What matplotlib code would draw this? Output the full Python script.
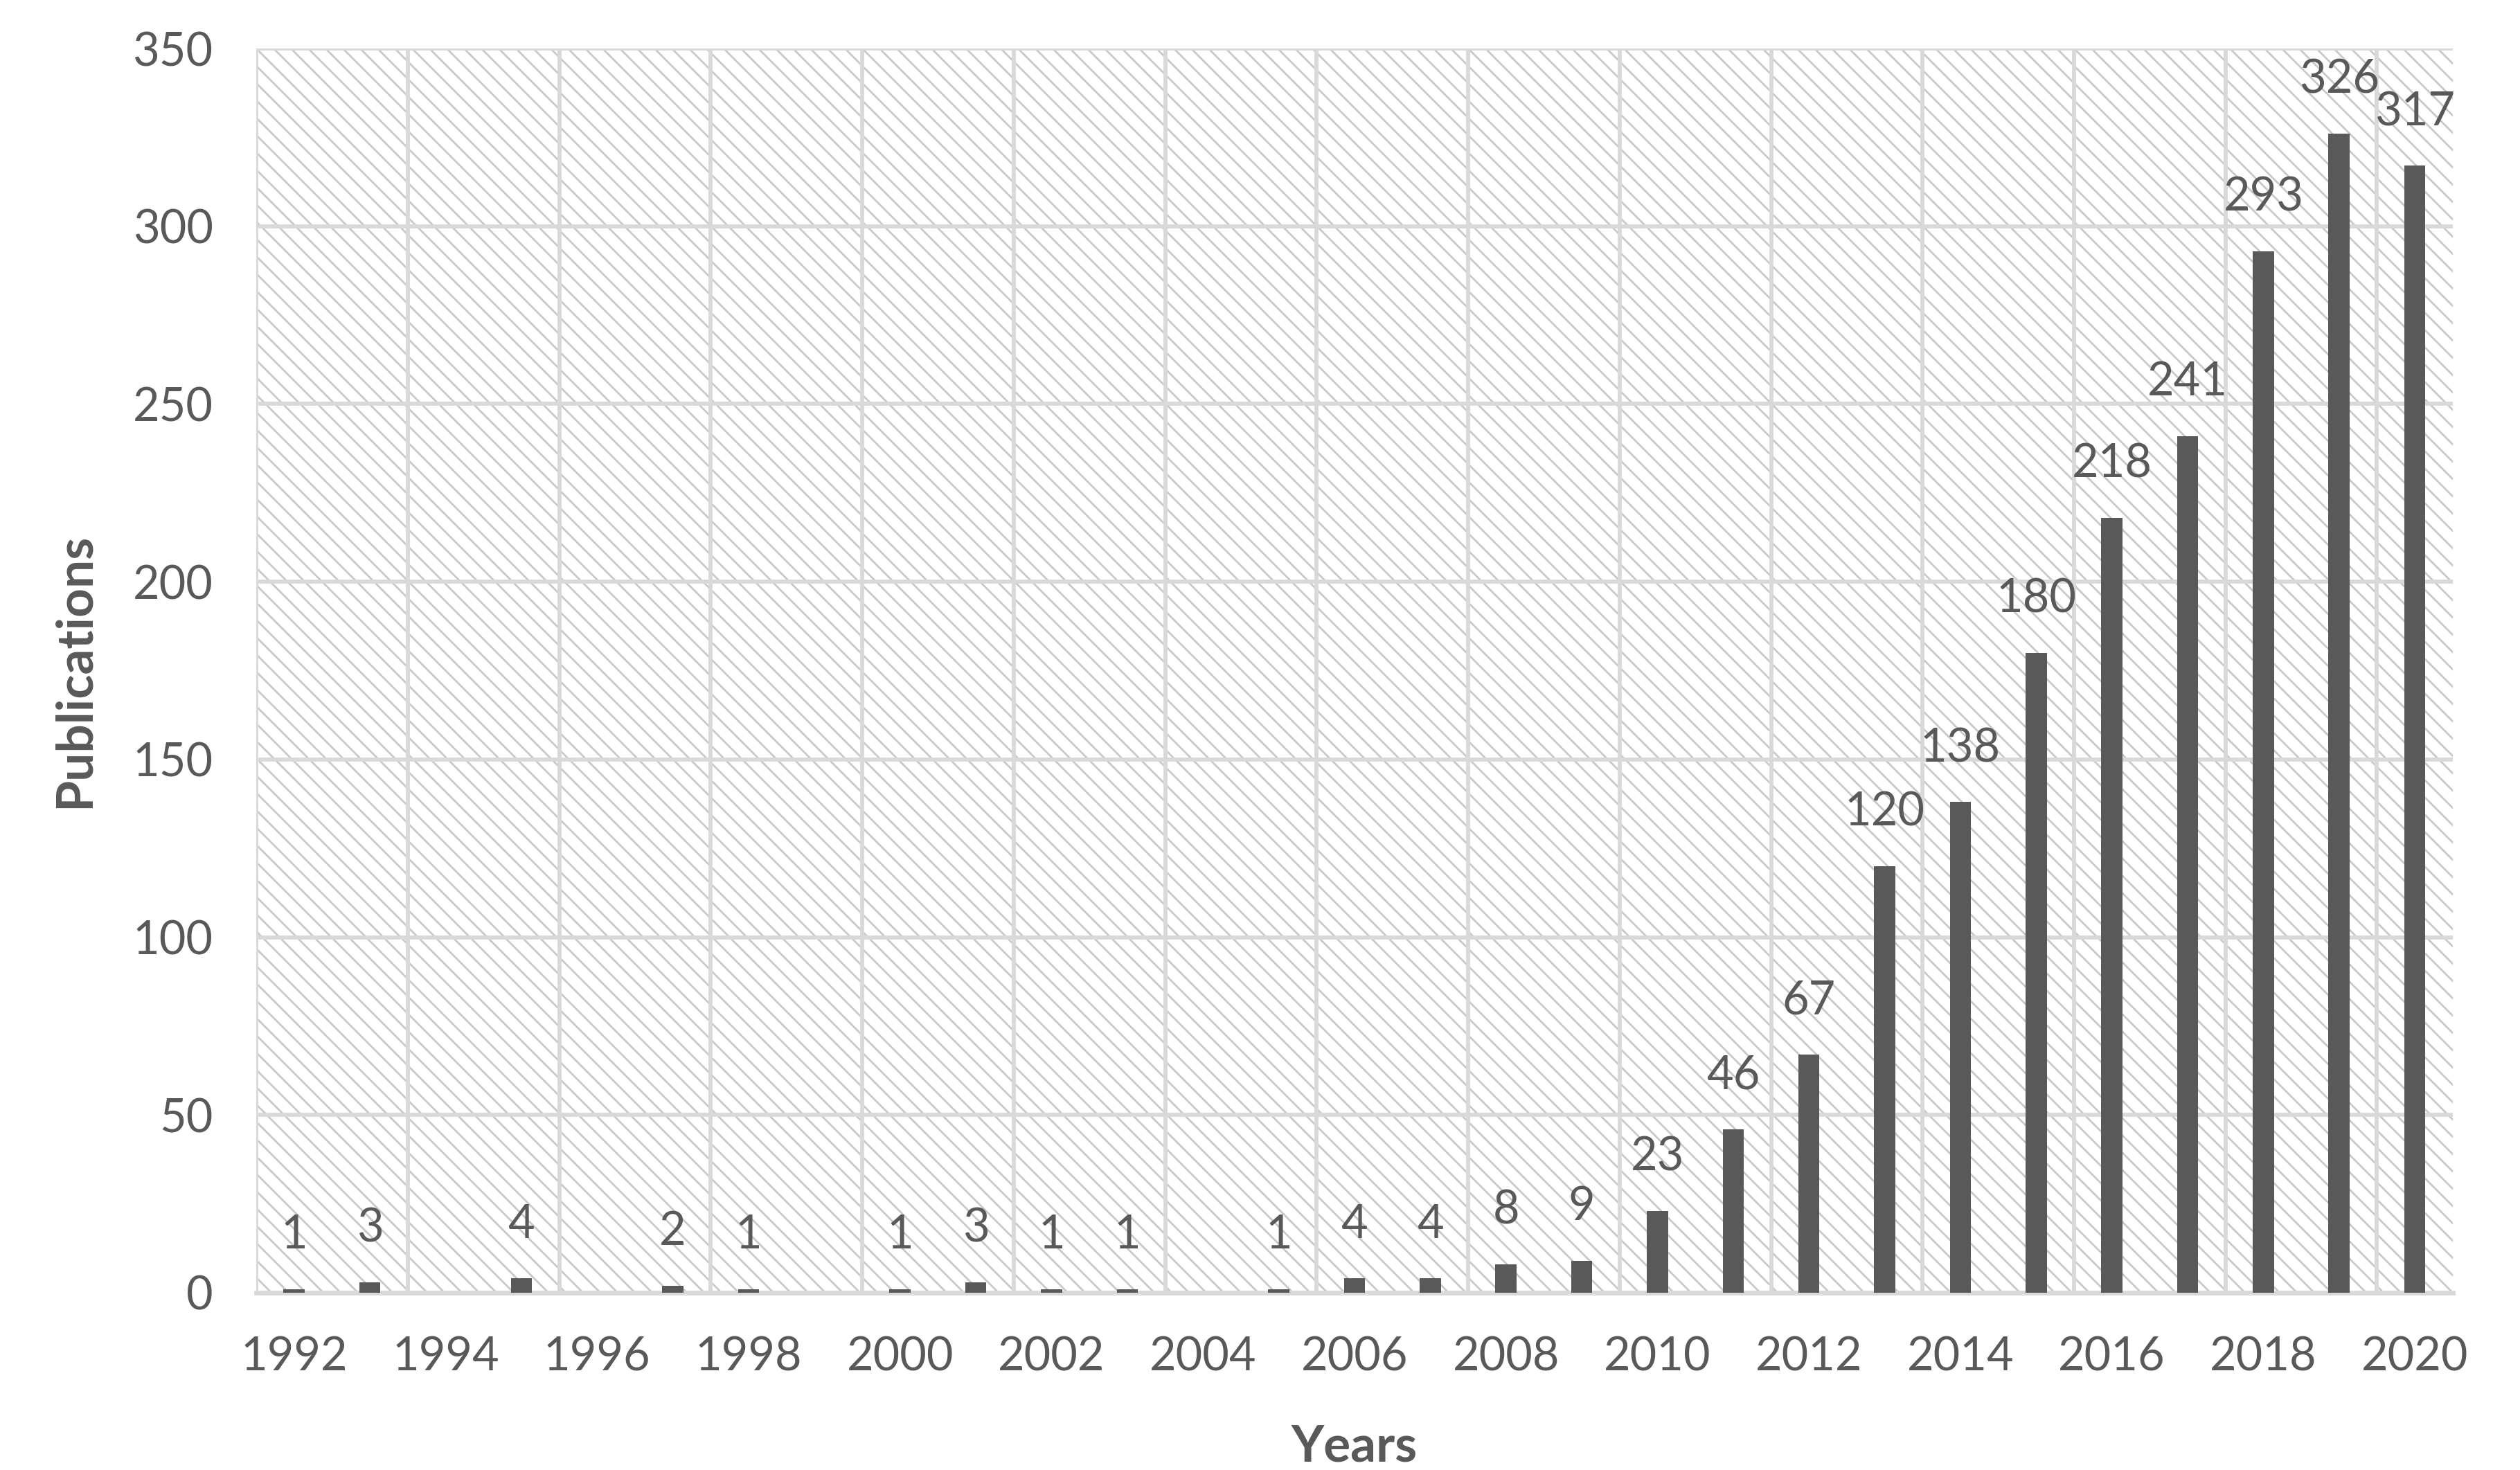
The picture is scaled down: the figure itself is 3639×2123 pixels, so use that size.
import numpy as np
import matplotlib
matplotlib.use("Agg")
import matplotlib.pyplot as plt
from matplotlib.patches import Rectangle

# Datos
years = list(range(1992, 2021))
publications = [1, 3, 0, 4, 0, 2, 1, 0, 1, 3, 1, 1, 0, 1, 4, 4, 8, 9,
                23, 46, 67, 120, 138, 180, 218, 241, 293, 326, 317]
y_ticks = [0, 50, 100, 150, 200, 250, 300, 350]

text_color = '#595959'
grid_color = '#d9d9d9'

plt.rcParams['font.family'] = ['Lato', 'DejaVu Sans']
plt.rcParams['hatch.linewidth'] = 1.3

DPI = 150
fig = plt.figure(figsize=(3639 / DPI, 2123 / DPI), dpi=DPI)
ax = fig.add_axes([0.1017, 0.1206, 0.8716, 0.8464])

x = np.arange(len(years))

# Fondo con trama diagonal
bg = Rectangle((0, 0), 1, 1, transform=ax.transAxes, facecolor='white',
               edgecolor='#c8c8c8', hatch='\\\\', linewidth=0, zorder=0.1)
ax.add_patch(bg)

ax.bar(x, publications, width=0.28, color='#595959', zorder=3)

# Etiquetas de datos (sin etiqueta para ceros)
for xi, v in zip(x, publications):
    if v > 0:
        ax.annotate(str(v), (xi, v), xytext=(0, 28), textcoords='offset points',
                    ha='center', va='baseline', fontsize=32, color=text_color, zorder=4)

ax.set_xlim(-0.5, len(years) - 0.5)
ax.set_ylim(0, 350)
ax.set_yticks(y_ticks)
ax.set_xticks(x[::2])
ax.set_xticklabels([str(y) for y in years[::2]])
ax.set_xticks(np.arange(-0.5, len(years) - 0.5, 2), minor=True)

ax.tick_params(axis='both', which='both', length=0, labelsize=32, labelcolor=text_color)
ax.tick_params(axis='y', pad=30)
ax.tick_params(axis='x', pad=30)

ax.set_axisbelow(True)
ax.grid(True, axis='y', which='major', color=grid_color, linewidth=2.8, zorder=0.5)
ax.grid(True, axis='x', which='minor', color=grid_color, linewidth=2.8, zorder=0.5)
ax.grid(False, axis='x', which='major')

for s in ['top', 'right', 'left']:
    ax.spines[s].set_visible(False)
ax.spines['bottom'].set_color(grid_color)
ax.spines['bottom'].set_linewidth(3.2)
ax.spines['bottom'].set_zorder(0.6)

ax.set_xlabel('Years', fontsize=35, fontweight='bold', color=text_color, labelpad=31)
ax.set_ylabel('Publications', fontsize=35, fontweight='bold', color=text_color, labelpad=24)

fig.savefig('out.png', dpi=DPI)
